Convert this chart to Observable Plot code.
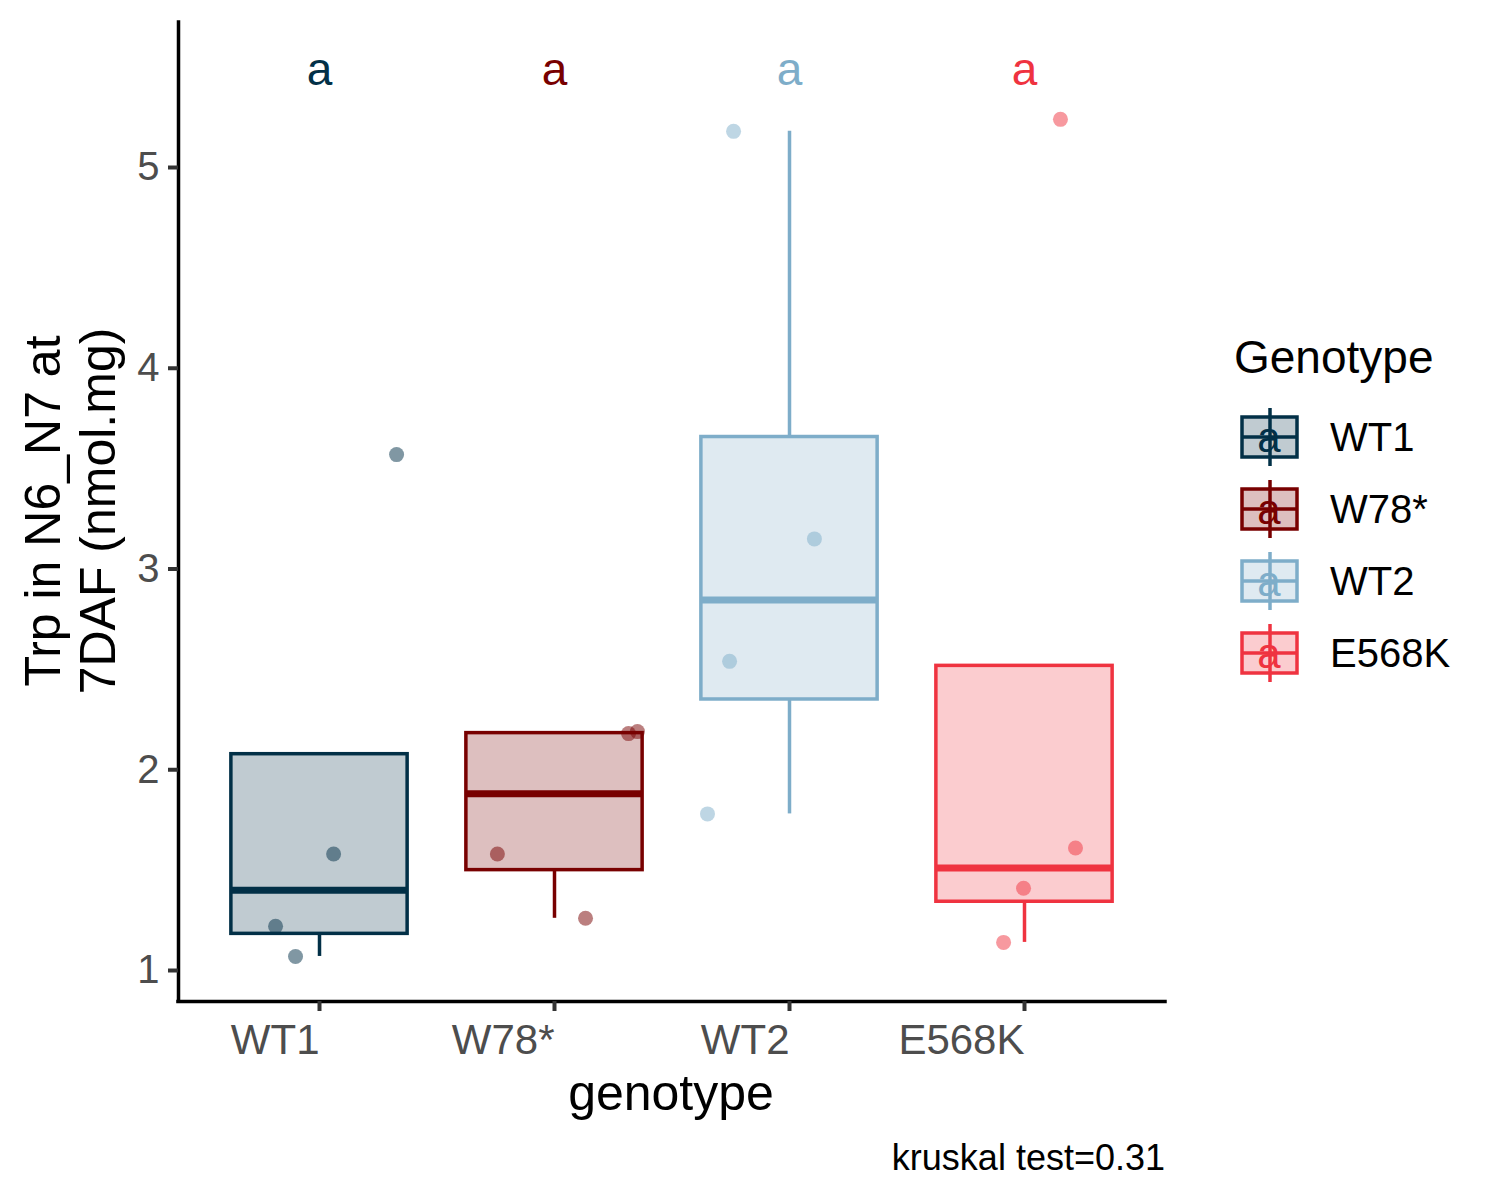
<!DOCTYPE html>
<html><head><meta charset="utf-8">
<script src="https://cdn.jsdelivr.net/npm/d3@7"></script>
<script src="https://cdn.jsdelivr.net/npm/@observablehq/plot@0.6"></script>
<style>
body{margin:0;background:#fff;}
#chart{position:relative;width:1500px;height:1200px;}
</style></head><body><div id="chart"></div>
<script>
// ---- data ----
const genotypes = ["WT1", "W78*", "WT2", "E568K"];
const genotypeColors = ["#023047", "#780000", "#7eadc9", "#ef3340"];
const sigLetters = ["a", "a", "a", "a"];
const sampleGenotype = ["WT1","WT1","WT1","WT1","W78*","W78*","W78*","W78*","WT2","WT2","WT2","WT2","E568K","E568K","E568K","E568K"];
const sampleTrp = [1.07, 1.22, 1.58, 3.57, 1.26, 1.58, 2.18, 2.19, 1.78, 2.54, 3.15, 5.18, 1.14, 1.41, 1.61, 5.24];
const sampleJitter = [-0.102, -0.187, 0.06, 0.328, 0.132, -0.243, 0.315, 0.353, -0.349, -0.255, 0.106, -0.238, -0.089, -0.004, 0.217, 0.153];
const yTicks = [1, 2, 3, 4, 5];
const letterLevel = 5.5;
const xTitle = "genotype";
const yTitleLines = ["Trp in N6_N7 at", "7DAF (nmol.mg)"];
const legendTitle = "Genotype";
const captionText = "kruskal test=0.31";

// ---- derived tables ----
const samples = sampleTrp.map((v, i) => ({
  g: sampleGenotype[i],
  pos: genotypes.indexOf(sampleGenotype[i]) + 1 + sampleJitter[i],
  v
}));
const stats = genotypes.map((g, i) => {
  const vals = samples.filter(d => d.g === g).map(d => d.v).sort(d3.ascending);
  const q1 = d3.quantile(vals, 0.25), med = d3.quantile(vals, 0.5), q3 = d3.quantile(vals, 0.75);
  const iqr = q3 - q1;
  const inside = vals.filter(v => v >= q1 - 1.5 * iqr && v <= q3 + 1.5 * iqr);
  return {g, pos: i + 1, q1, med, q3,
    lo: Math.min(q1, d3.min(inside)), hi: Math.max(q3, d3.max(inside)), letter: sigLetters[i]};
});

const halfW = 0.375;
const yDomain = [0.8456, 5.7223];
const font = "'Liberation Sans', Arial, sans-serif";

const svg = Plot.plot({
  width: 1500, height: 1200,
  marginLeft: 178, marginRight: 335, marginTop: 22, marginBottom: 199,
  style: {fontFamily: font, background: "#fff", overflow: "visible"},
  x: {type: "linear", domain: [0.4, 4.6], axis: null},
  y: {domain: yDomain, axis: null},
  color: {domain: genotypes, range: genotypeColors},
  marks: [
    Plot.ruleX(stats, {x: "pos", y1: "q3", y2: "hi", stroke: "g", strokeWidth: 3.5}),
    Plot.ruleX(stats, {x: "pos", y1: "lo", y2: "q1", stroke: "g", strokeWidth: 3.5}),
    Plot.rect(stats, {x1: d => d.pos - halfW, x2: d => d.pos + halfW, y1: "q1", y2: "q3",
      fill: "g", fillOpacity: 0.25, stroke: "g", strokeWidth: 3.5}),
    Plot.ruleY(stats, {y: "med", x1: d => d.pos - halfW, x2: d => d.pos + halfW, stroke: "g", strokeWidth: 7}),
    Plot.dot(samples, {x: "pos", y: "v", r: 7.5, fill: "g", fillOpacity: 0.5, stroke: null}),
    Plot.text(stats, {x: "pos", y: () => letterLevel, text: "letter", fill: "g", fontSize: 46, lineAnchor: "middle", dy: 3}),
    Plot.ruleX([0.4], {stroke: "#000", strokeWidth: 3.5, strokeLinecap: "square"}),
    Plot.ruleY([yDomain[0]], {stroke: "#000", strokeWidth: 3.5, strokeLinecap: "square"}),
    Plot.axisY({ticks: yTicks, tickFormat: d => String(d), tickSize: 10, tickPadding: 9, fontSize: 40,
      stroke: "#333333", strokeWidth: 4, fill: "#4d4d4d", label: null}),
    Plot.axisX({ticks: [1, 2, 3, 4], tickSize: 10, stroke: "#333333", strokeWidth: 4, fill: "none", label: null}),
    Plot.text(genotypes, {x: (d, i) => i + 1, text: d => d, frameAnchor: "bottom", dy: 52,
      lineAnchor: "bottom", textAnchor: "end", fontSize: 42, fill: "#4d4d4d"})
  ]
});
document.getElementById("chart").appendChild(svg);

const s = d3.select(svg);
// axis titles
s.append("text").attr("x", 671).attr("y", 1110).attr("text-anchor", "middle")
  .attr("font-family", font).attr("font-size", 50).attr("fill", "#000").text(xTitle);
yTitleLines.forEach((t, i) => {
  s.append("text").attr("transform", `translate(${60 + i * 55},511) rotate(-90)`)
    .attr("text-anchor", "middle").attr("font-family", font).attr("font-size", 50)
    .attr("fill", "#000").text(t);
});
// caption
s.append("text").attr("x", 1165).attr("y", 1170).attr("text-anchor", "end")
  .attr("font-family", font).attr("font-size", 36).attr("fill", "#000").text(captionText);

// legend
s.append("text").attr("x", 1234).attr("y", 373).attr("text-anchor", "start").attr("font-family", font)
  .attr("font-size", 46).attr("fill", "#000").text(legendTitle);
genotypes.forEach((g, i) => {
  const cy = 437 + i * 72;
  const c = genotypeColors[i];
  const k = s.append("g");
  k.append("line").attr("x1", 1270).attr("x2", 1270).attr("y1", cy - 29).attr("y2", cy + 29)
    .attr("stroke", c).attr("stroke-width", 3.5);
  k.append("rect").attr("x", 1242).attr("y", cy - 20).attr("width", 55).attr("height", 40)
    .attr("fill", c).attr("fill-opacity", 0.25).attr("stroke", c).attr("stroke-width", 3.5);
  k.append("line").attr("x1", 1242).attr("x2", 1297).attr("y1", cy).attr("y2", cy)
    .attr("stroke", c).attr("stroke-width", 3.5);
  k.append("text").attr("x", 1269).attr("y", cy + 15).attr("text-anchor", "middle")
    .attr("font-family", font).attr("font-size", 42).attr("fill", c).text(sigLetters[i]);
  s.append("text").attr("x", 1330).attr("y", cy + 14).attr("text-anchor", "start").attr("font-family", font)
    .attr("font-size", 40).attr("fill", "#000").text(g);
});
</script></body></html>
